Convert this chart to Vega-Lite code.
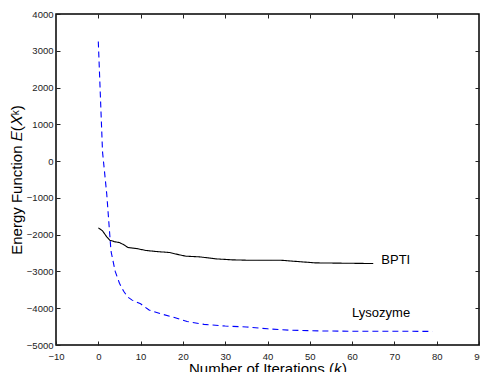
{
  "$schema": "https://vega.github.io/schema/vega-lite/v6.json",
  "width": 423,
  "height": 331,
  "autosize": {"type": "none"},
  "padding": {"left": 56, "top": 14, "right": 1, "bottom": 27},
  "background": "white",
  "config": {
    "font": "Liberation Sans",
    "view": {"stroke": "black", "strokeWidth": 1.5},
    "axis": {
      "domain": false,
      "grid": false,
      "labelFont": "Liberation Sans",
      "labelFontSize": 9.5,
      "labelColor": "#222",
      "tickColor": "#222",
      "tickSize": -4,
      "titleFont": "Liberation Sans",
      "titleFontSize": 15,
      "titleFontWeight": "normal",
      "titleColor": "black"
    }
  },
  "datasets": {
    "curves": [
      {"series": "BPTI", "k": 0, "E": -1814},
      {"series": "BPTI", "k": 1, "E": -1896},
      {"series": "BPTI", "k": 2, "E": -2060},
      {"series": "BPTI", "k": 2.7, "E": -2150},
      {"series": "BPTI", "k": 4, "E": -2196},
      {"series": "BPTI", "k": 5, "E": -2213},
      {"series": "BPTI", "k": 6.2, "E": -2286},
      {"series": "BPTI", "k": 7, "E": -2349},
      {"series": "BPTI", "k": 9, "E": -2376},
      {"series": "BPTI", "k": 11.3, "E": -2430},
      {"series": "BPTI", "k": 13.7, "E": -2458},
      {"series": "BPTI", "k": 16.8, "E": -2485},
      {"series": "BPTI", "k": 19.2, "E": -2549},
      {"series": "BPTI", "k": 20.7, "E": -2585},
      {"series": "BPTI", "k": 24, "E": -2604},
      {"series": "BPTI", "k": 27.8, "E": -2658},
      {"series": "BPTI", "k": 31.7, "E": -2685},
      {"series": "BPTI", "k": 35, "E": -2694},
      {"series": "BPTI", "k": 43, "E": -2694},
      {"series": "BPTI", "k": 45, "E": -2712},
      {"series": "BPTI", "k": 51.3, "E": -2767},
      {"series": "BPTI", "k": 65, "E": -2785},
      {"series": "Lysozyme", "k": 0, "E": 3250},
      {"series": "Lysozyme", "k": 1, "E": 250},
      {"series": "Lysozyme", "k": 2, "E": -900},
      {"series": "Lysozyme", "k": 3, "E": -2450},
      {"series": "Lysozyme", "k": 4, "E": -3000},
      {"series": "Lysozyme", "k": 5, "E": -3320},
      {"series": "Lysozyme", "k": 6, "E": -3540},
      {"series": "Lysozyme", "k": 7, "E": -3700},
      {"series": "Lysozyme", "k": 8, "E": -3780},
      {"series": "Lysozyme", "k": 10, "E": -3880},
      {"series": "Lysozyme", "k": 12, "E": -4050},
      {"series": "Lysozyme", "k": 15, "E": -4160},
      {"series": "Lysozyme", "k": 18, "E": -4250},
      {"series": "Lysozyme", "k": 21, "E": -4360},
      {"series": "Lysozyme", "k": 25, "E": -4440},
      {"series": "Lysozyme", "k": 30, "E": -4485},
      {"series": "Lysozyme", "k": 35, "E": -4510},
      {"series": "Lysozyme", "k": 40, "E": -4560},
      {"series": "Lysozyme", "k": 45, "E": -4595},
      {"series": "Lysozyme", "k": 52, "E": -4617},
      {"series": "Lysozyme", "k": 60, "E": -4625},
      {"series": "Lysozyme", "k": 70, "E": -4626},
      {"series": "Lysozyme", "k": 79, "E": -4630}
    ],
    "labels": [
      {"label": "BPTI", "k": 66.9, "E": -2694},
      {"label": "Lysozyme", "k": 60, "E": -4128}
    ]
  },
  "layer": [
    {
      "data": {"name": "curves"},
      "mark": {"type": "line", "strokeWidth": 1.1, "clip": true},
      "encoding": {
        "x": {
          "field": "k", "type": "quantitative",
          "scale": {"domain": [-10, 90], "nice": false, "zero": false},
          "axis": {"orient": "bottom", "values": [-10, 0, 10, 20, 30, 40, 50, 60, 70, 80, 90], "format": "d", "labelPadding": 10, "title": "Number of Iterations (𝑘)", "titlePadding": 1, "labelFlush": false}
        },
        "y": {
          "field": "E", "type": "quantitative",
          "scale": {"domain": [-5000, 4000], "nice": false, "zero": false},
          "axis": {"orient": "left", "values": [-5000, -4000, -3000, -2000, -1000, 0, 1000, 2000, 3000, 4000], "format": "d", "labelPadding": 7, "title": "Energy Function 𝐸(𝑋ᵏ)", "titlePadding": 2}
        },
        "color": {"field": "series", "type": "nominal", "scale": {"domain": ["BPTI", "Lysozyme"], "range": ["black", "#0000ff"]}, "legend": null},
        "strokeDash": {"field": "series", "type": "nominal", "scale": {"domain": ["BPTI", "Lysozyme"], "range": [[1, 0], [6, 4]]}, "legend": null}
      }
    },
    {
      "data": {"name": "labels"},
      "mark": {"type": "text", "align": "left", "baseline": "middle", "fontSize": 13, "font": "Liberation Sans", "color": "black"},
      "encoding": {
        "x": {
          "field": "k", "type": "quantitative",
          "scale": {"domain": [-10, 90], "nice": false, "zero": false},
          "axis": {"orient": "top", "values": [0, 10, 20, 30, 40, 50, 60, 70, 80], "labels": false, "title": null}
        },
        "y": {
          "field": "E", "type": "quantitative",
          "scale": {"domain": [-5000, 4000], "nice": false, "zero": false},
          "axis": {"orient": "right", "values": [-4000, -3000, -2000, -1000, 0, 1000, 2000, 3000], "labels": false, "title": null}
        },
        "text": {"field": "label"}
      }
    }
  ],
  "resolve": {"axis": {"x": "independent", "y": "independent"}}
}
